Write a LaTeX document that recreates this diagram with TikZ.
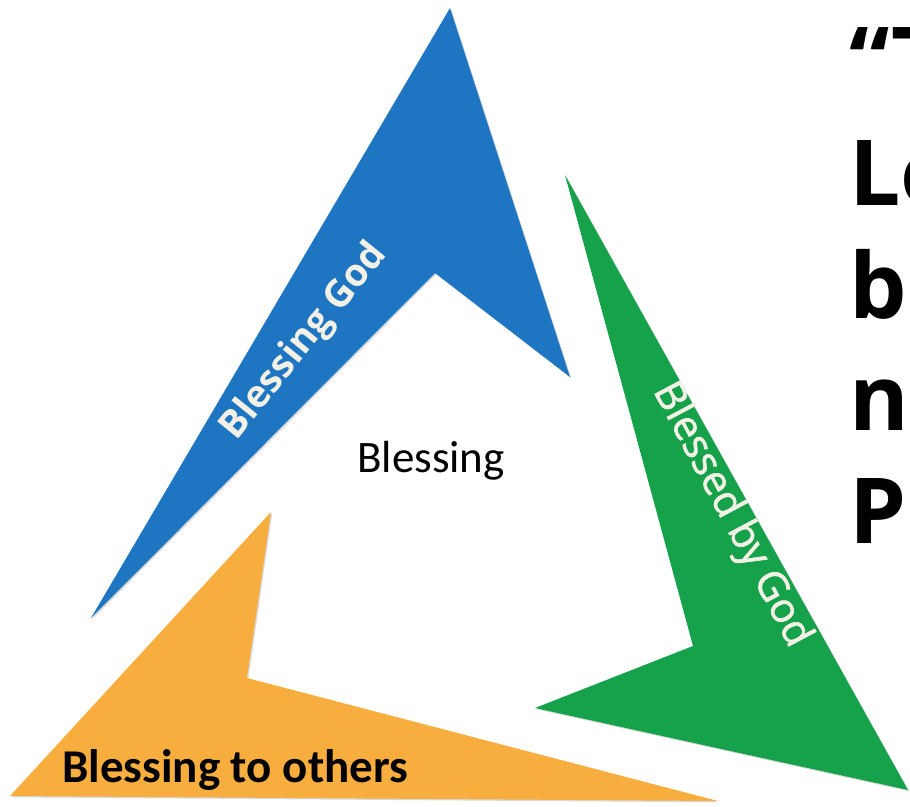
\documentclass[tikz,border=0pt]{standalone}
\usepackage{fontspec}
\setmainfont{Carlito}
\newfontfamily\wideSans{Open Sans}
\newfontfamily\wideSansMid[FakeBold=1.5]{Open Sans}
\usetikzlibrary{shadows, calc, positioning}
\definecolor{barbBlue}{RGB}{30,118,195}
\definecolor{barbGreen}{RGB}{22,162,74}
\definecolor{barbOrange}{RGB}{247,174,62}
\definecolor{labelCream}{RGB}{243,241,230}
\tikzset{
    barbShape/.style={fill=#1, draw=none, drop shadow={shadow xshift=1.3pt, shadow yshift=-1.3pt, opacity=0.3}},
    stemBold/.style={inner sep=0pt, text=labelCream, font=\wideSans\bfseries\fontsize{38}{46}\selectfont},
    stemPlain/.style={inner sep=0pt, text=labelCream, font=\wideSansMid\fontsize{41}{49}\selectfont},
    centreText/.style={inner sep=0pt, text=black, font=\fontsize{45}{54}\selectfont},
    quoteLine/.style={inner sep=0pt, anchor=base west, text=black, font=\wideSans\bfseries\fontsize{91}{110}\selectfont},
}
\newcommand{\drawBarb}[5][barbBlue]{
    \path[barbShape=#1] (#2) -- (#3) -- (#4) -- (#5) -- cycle;
}

\begin{document}
\begin{tikzpicture}[x=1pt, y=-1pt]

        \useasboundingbox (0,0) rectangle (910,806);
        \clip (0,0) rectangle (910,806);

        % blue arrow, pointing up
        \coordinate (bTip) at (450,8);
        \coordinate (bBarb) at (570,377);
        \coordinate (bNotch) at (435,273);
        \coordinate (bTail) at (91,618);

        % green arrow, pointing down right
        \coordinate (gTail) at (565,175);
        \coordinate (gNotch) at (693,646);
        \coordinate (gBarb) at (535,708);
        \coordinate (gTip) at (908,790);

        % orange arrow, along the bottom
        \coordinate (oTop) at (271,512);
        \coordinate (oNotch) at (247,678);
        \coordinate (oEnd) at (718,801);
        \coordinate (oCorner) at (10,796);

        \drawBarb[barbBlue]{bTip}{bBarb}{bNotch}{bTail}
        \drawBarb[barbGreen]{gTail}{gNotch}{gBarb}{gTip}
        \drawBarb[barbOrange]{oTop}{oNotch}{oEnd}{oCorner}

        \node[stemBold, rotate=51] (blessingGod) at (304,342) {Blessing God};
        \node[stemPlain, rotate=-62] (blessedByGod) at (731,515) {Blessed by God};
        \node[centreText, anchor=base] (blessing) at (431,472) {Blessing};
        \node[centreText, anchor=base west, font=\bfseries\fontsize{47}{56}\selectfont] (toOthers) at (62,782) {Blessing to others};

        % quote, cut by the right edge
        \node[quoteLine] (quoteA) at (849,92) {“T};
        \node[quoteLine] (quoteB) at (849,205) {Lo};
        \node[quoteLine] (quoteC) at (849,318) {b};
        \node[quoteLine] (quoteD) at (849,430) {n};
        \node[quoteLine] (quoteE) at (849,543) {Ps};

    \end{tikzpicture}
\end{document}
